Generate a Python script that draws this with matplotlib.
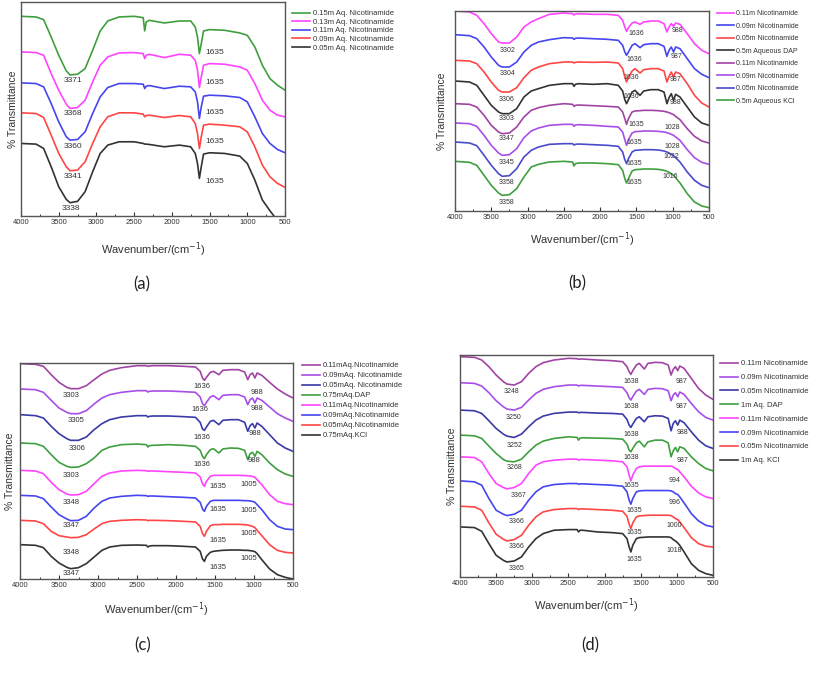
import matplotlib
matplotlib.use('Agg')
import matplotlib.pyplot as plt
import numpy as np
from matplotlib.ticker import MultipleLocator

plt.rcParams['font.family'] = ['Liberation Sans', 'DejaVu Sans']

# trace readings = pixel row of the trace in a 3x zoom of each panel
# (bigger number = lower on the page), turned into heights below

# ---- (a) ----
wn_a = [4000, 3800, 3700, 3600, 3500, 3400, 3350, 3250, 3150, 3050, 2950, 2850, 2700, 2500, 2380,
        2360, 2340, 2300, 2100, 1900, 1750, 1690, 1660, 1635, 1610, 1580, 1500, 1300, 1100, 1000,
        900, 800, 700, 600, 500]
a_015 = [48, 50, 58, 110, 165, 212, 224, 222, 205, 150, 92, 62, 50, 48, 52, 92, 65, 60, 68, 62,
         62, 80, 110, 160, 130, 92, 88, 90, 98, 105, 140, 195, 235, 255, 270]
a_013 = [155, 157, 165, 220, 270, 312, 325, 322, 300, 245, 195, 170, 158, 157, 160, 175, 165, 162, 172, 162,
         165, 180, 210, 262, 230, 195, 190, 192, 200, 210, 250, 300, 330, 345, 350]
a_011 = [248, 250, 260, 310, 365, 410, 420, 418, 395, 340, 290, 262, 250, 250, 252, 265, 258, 256, 265, 258,
         260, 275, 305, 355, 320, 288, 285, 287, 292, 305, 350, 400, 430, 448, 458]
a_009 = [338, 340, 352, 405, 460, 500, 512, 510, 485, 430, 380, 350, 338, 338, 342, 350, 346, 345, 352, 346,
         350, 370, 400, 445, 410, 375, 372, 375, 380, 395, 440, 495, 530, 550, 562]
a_005 = [430, 432, 445, 500, 560, 598, 608, 604, 575, 515, 460, 435, 425, 425, 430, 432, 432, 433, 440, 435,
         440, 460, 490, 535, 500, 462, 458, 460, 468, 490, 540, 600, 632, 662, 700]
a_names = ['0.15m Aq. Nicotinamide', '0.13m Aq. Nicotinamide', '0.11m Aq. Nicotinamide',
           '0.09m Aq. Nicotinamide', '0.05m Aq. Nicotinamide']
a_lbl = ['3371', '3368', '3360', '3341', '3338', '1635', '1635', '1635', '1635', '1635']
a_lbl_wn = [3312, 3312, 3312, 3312, 3334, 1427, 1427, 1427, 1427, 1427]
a_lbl_row = [240, 340, 438, 528, 626, 158, 248, 338, 425, 545]

# ---- (b), (c), (d) share one wavenumber grid ----
wn = [4000, 3800, 3700, 3600, 3500, 3400, 3350, 3250, 3150, 3050, 2950, 2850, 2700, 2500, 2380,
      2360, 2340, 2300, 2100, 1900, 1750, 1690, 1660, 1636, 1610, 1560, 1520, 1450, 1400, 1300,
      1200, 1120, 1080, 1050, 1020, 988, 960, 900, 800, 700, 600, 500]

b_011 = [32, 35, 45, 70, 100, 125, 128, 128, 110, 80, 65, 55, 42, 38, 40, 44, 41, 40, 42, 42, 45, 60, 80, 93,
         82, 68, 65, 72, 65, 62, 62, 70, 95, 80, 70, 78, 68, 72, 100, 130, 150, 160]
b_009 = [103, 106, 115, 140, 170, 195, 200, 200, 185, 155, 135, 125, 118, 112, 113, 117, 114, 113, 115, 117,
         120, 135, 155, 165, 155, 135, 130, 142, 133, 130, 130, 138, 168, 150, 140, 155, 140, 145, 175, 205,
         222, 232]
b_005 = [180, 182, 190, 215, 245, 270, 275, 275, 262, 232, 210, 200, 190, 185, 185, 188, 186, 185, 186, 185,
         188, 205, 230, 245, 232, 212, 205, 218, 208, 205, 205, 212, 245, 228, 215, 230, 215, 220, 250, 285,
         308, 320]
b_dap = [242, 245, 255, 285, 315, 335, 340, 340, 325, 290, 272, 265, 255, 250, 250, 258, 252, 250, 252, 250,
         255, 272, 298, 310, 298, 275, 270, 285, 272, 268, 268, 275, 310, 292, 280, 300, 282, 290, 320, 350,
         368, 375]
b_k011 = [310, 312, 320, 345, 375, 395, 400, 398, 380, 350, 330, 322, 315, 310, 312, 318, 315, 314, 316, 318,
          320, 335, 355, 372, 355, 335, 332, 331, 330, 330, 331, 333, 335, 337, 340, 343, 348, 358, 385, 408,
          422, 428]
b_k009 = [368, 370, 378, 405, 435, 458, 465, 463, 445, 412, 392, 383, 375, 372, 372, 378, 374, 373, 375, 378,
          380, 395, 418, 435, 418, 398, 394, 393, 392, 392, 393, 395, 397, 399, 402, 405, 410, 420, 448, 472,
          486, 492]
b_k005 = [425, 428, 436, 465, 495, 520, 528, 526, 505, 470, 450, 440, 432, 430, 430, 434, 432, 431, 433, 435,
          438, 455, 478, 490, 475, 455, 450, 449, 448, 448, 449, 452, 455, 458, 462, 466, 472, 485, 515, 540,
          555, 562]
b_kcl = [483, 486, 495, 525, 555, 578, 585, 583, 565, 530, 500, 492, 485, 483, 485, 497, 490, 488, 488, 490,
         493, 510, 535, 548, 535, 512, 508, 507, 506, 506, 507, 510, 513, 516, 520, 525, 532, 548, 580, 605,
         617, 622]
b_names = ['0.11m Nicotinamide', '0.09m Nicotinamide', '0.05m Nicotinamide', '0.5m Aqueous DAP',
           '0.11m Nicotinamide', '0.09m Nicotinamide', '0.05m Nicotinamide', '0.5m Aqueous KCl']
b_lbl = ['3302', '3304', '3306', '3303', '3347', '3345', '3358', '3358',
         '1636', '1636', '1636', '1636', '1635', '1635', '1635', '1635',
         '988', '987', '987', '988', '1028', '1028', '1022', '1016']
b_lbl_wn = [3280, 3280, 3285, 3290, 3290, 3290, 3290, 3290,
            1497, 1529, 1565, 1565, 1506, 1529, 1529, 1529,
            932, 945, 955, 968, 1000, 1000, 1014, 1037]
b_lbl_row = [150, 220, 298, 355, 415, 488, 545, 605,
             100, 178, 232, 288, 372, 428, 490, 548,
             92, 168, 238, 308, 382, 440, 470, 530]

c_011 = [102, 104, 110, 135, 158, 173, 177, 177, 168, 150, 133, 122, 114, 108, 108, 110, 109, 108, 108, 110,
         112, 125, 145, 152, 143, 128, 125, 135, 122, 120, 120, 127, 150, 135, 130, 145, 130, 137, 158, 178,
         193, 205]
c_009 = [178, 180, 188, 212, 235, 248, 252, 252, 243, 223, 205, 195, 188, 183, 183, 187, 185, 184, 184, 186,
         188, 202, 222, 228, 218, 202, 198, 210, 197, 195, 195, 202, 225, 210, 205, 220, 205, 212, 232, 252,
         265, 275]
c_005 = [255, 258, 265, 290, 312, 327, 332, 332, 322, 300, 282, 270, 262, 258, 258, 262, 260, 259, 259, 261,
         263, 278, 298, 302, 292, 275, 272, 285, 272, 270, 270, 278, 305, 288, 282, 295, 280, 290, 315, 340,
         355, 365]
c_dap = [340, 342, 350, 375, 398, 410, 413, 412, 402, 385, 362, 352, 345, 343, 345, 352, 348, 347, 345, 347,
         350, 362, 380, 387, 375, 360, 357, 370, 358, 355, 356, 362, 390, 372, 368, 380, 365, 375, 400, 420,
         433, 440]
c_k011 = [422, 424, 432, 458, 480, 493, 496, 495, 485, 462, 440, 430, 424, 422, 423, 425, 424, 424, 426, 428,
          430, 442, 462, 470, 455, 440, 437, 437, 437, 437, 437, 438, 438, 439, 440, 443, 450, 465, 495, 515,
          522, 525]
c_k009 = [497, 499, 507, 532, 555, 568, 573, 572, 560, 535, 515, 505, 500, 497, 498, 500, 499, 499, 501, 503,
          505, 518, 538, 545, 530, 515, 512, 512, 512, 512, 512, 513, 513, 514, 515, 518, 525, 540, 570, 590,
          598, 600]
c_k005 = [572, 574, 582, 605, 618, 622, 624, 623, 615, 598, 582, 575, 572, 570, 571, 573, 572, 572, 573, 575,
          577, 590, 612, 620, 605, 588, 585, 585, 584, 584, 584, 585, 586, 588, 590, 594, 602, 618, 645, 662,
          668, 670]
c_kcl = [645, 647, 654, 680, 700, 713, 717, 714, 702, 682, 662, 652, 647, 646, 647, 652, 649, 648, 648, 650,
         652, 665, 688, 695, 680, 668, 665, 663, 662, 661, 661, 662, 662, 663, 664, 666, 672, 690, 718, 735,
         743, 748]
c_names = ['0.11mAq.Nicotinamide', '0.09mAq. Nicotinamide', '0.05mAq. Nicotinamide', '0.75mAq.DAP',
           '0.11mAq.Nicotinamide', '0.09mAq.Nicotinamide', '0.05mAq.Nicotinamide', '0.75mAq.KCl']
c_lbl = ['3303', '3305', '3306', '3303', '3348', '3347', '3348', '3347',
         '1636', '1636', '1636', '1636', '1635', '1635', '1635', '1635',
         '988', '988', '988', '988', '1005', '1005', '1005', '1005']
c_lbl_wn = [3345, 3281, 3273, 3345, 3345, 3345, 3345, 3345,
            1668, 1698, 1668, 1668, 1463, 1463, 1463, 1463,
            962, 962, 983, 1005, 1069, 1069, 1069, 1069]
c_lbl_row = [198, 273, 358, 437, 518, 588, 668, 732,
             170, 240, 323, 405, 470, 540, 632, 713,
             190, 235, 312, 392, 465, 543, 612, 688]

d_011 = [80, 82, 90, 110, 135, 155, 162, 165, 155, 130, 110, 98, 90, 85, 86, 88, 87, 87, 90, 92, 95, 110, 125,
         133, 122, 105, 100, 117, 100, 97, 98, 105, 135, 118, 110, 122, 108, 115, 145, 175, 195, 208]
d_009 = [158, 160, 168, 188, 212, 230, 237, 240, 232, 210, 190, 178, 170, 165, 165, 168, 166, 166, 168, 170,
         172, 188, 203, 210, 200, 183, 178, 193, 178, 175, 176, 182, 212, 195, 188, 200, 186, 193, 220, 245,
         262, 270]
d_005 = [240, 242, 250, 272, 295, 312, 318, 322, 312, 290, 270, 258, 250, 246, 246, 248, 247, 247, 249, 250,
         252, 268, 285, 292, 282, 265, 260, 275, 260, 257, 258, 265, 302, 280, 272, 285, 270, 278, 305, 330,
         347, 355]
d_dap = [315, 317, 325, 348, 370, 388, 393, 395, 387, 365, 345, 333, 325, 320, 322, 330, 324, 323, 324, 325,
         327, 342, 360, 365, 355, 338, 333, 350, 335, 330, 330, 338, 380, 362, 352, 365, 350, 355, 380, 400,
         415, 422]
d_k011 = [380, 382, 395, 430, 460, 472, 476, 472, 460, 430, 405, 395, 390, 387, 387, 390, 388, 388, 390, 392,
          395, 410, 435, 452, 435, 415, 410, 408, 408, 408, 408, 408, 408, 410, 415, 418, 425, 440, 468, 488,
          500, 505]
d_k009 = [452, 455, 465, 505, 540, 552, 556, 552, 540, 510, 485, 470, 463, 460, 460, 462, 461, 461, 463, 465,
          468, 485, 510, 522, 505, 485, 482, 481, 481, 481, 481, 481, 482, 485, 490, 493, 500, 518, 550, 572,
          585, 590]
d_k005 = [528, 530, 540, 578, 612, 627, 632, 628, 615, 585, 560, 545, 538, 535, 535, 538, 536, 536, 538, 540,
          543, 558, 582, 595, 578, 560, 557, 556, 555, 555, 555, 555, 556, 560, 565, 568, 575, 592, 622, 640,
          648, 650]
d_kcl = [590, 592, 603, 640, 675, 690, 695, 692, 680, 650, 625, 610, 600, 598, 598, 605, 600, 600, 605, 607,
         610, 625, 650, 665, 645, 625, 622, 621, 620, 620, 620, 620, 622, 628, 632, 638, 645, 665, 700, 720,
         730, 735]
d_names = ['0.11m Nicotinamide', '0.09m Nicotinamide', '0.05m Nicotinamide', '1m Aq. DAP',
           '0.11m Nicotinamide', '0.09m Nicotinamide', '0.05m Nicotinamide', '1m Aq. KCl']
d_lbl = ['3248', '3250', '3252', '3268', '3367', '3366', '3366', '3365',
         '1638', '1638', '1638', '1638', '1635', '1635', '1635', '1635',
         '987', '987', '988', '987', '994', '996', '1000', '1018']
d_lbl_wn = [3286, 3263, 3249, 3249, 3194, 3217, 3217, 3217,
            1628, 1628, 1628, 1628, 1628, 1591, 1591, 1591,
            937, 937, 928, 928, 1029, 1029, 1038, 1038]
d_lbl_row = [185, 262, 345, 412, 495, 575, 648, 715,
             155, 228, 312, 383, 465, 540, 606, 687,
             155, 228, 308, 390, 450, 518, 585, 660]

GREEN, MAGENTA, BLUE, RED, BLACK = '#3f9f3f', '#ff44ff', '#4646f0', '#ff4646', '#333333'
PURPLE, VIOLET, DBLUE, BLUE2 = '#a044a4', '#a84ee8', '#3a3aa8', '#4a4acc'

fig = plt.figure(figsize=(8.13, 6.76), dpi=100)
W, H = 813, 676


def panel(box, x, traces, names, colors, top, floor, lbl, lbl_wn, lbl_row, lbl_fs,
          leg_xy, leg_fs, leg_sp, ypad, xlab_ofs):
    l, t, r, b = box
    ax = fig.add_axes([l / W, 1 - b / H, (r - l) / W, (b - t) / H])
    for tr, nm, c in zip(traces, names, colors):
        ax.plot(x, floor - np.array(tr), color=c, lw=1.2, label=nm)
    for s, xx, yy in zip(lbl, lbl_wn, lbl_row):
        ax.text(xx, floor - yy, s, fontsize=lbl_fs, color='#333333', ha='center', va='center')
    ax.set_xlim(4000, 500)
    ax.set_ylim(0, floor - top)
    ax.set_yticks([])
    ax.xaxis.set_major_locator(MultipleLocator(500))
    ax.xaxis.set_minor_locator(MultipleLocator(250))
    ax.tick_params(axis='x', which='major', direction='in', length=3, width=0.8,
                   labelsize=5.5, pad=2.5, colors='#333333')
    ax.tick_params(axis='x', which='minor', direction='in', length=1.8, width=0.7, colors='#333333')
    for sp in ax.spines.values():
        sp.set_color('#555555')
        sp.set_linewidth(1.0)
    ax.set_ylabel('% Transmittance', fontsize=7.5, color='#333333', labelpad=ypad)
    ax.set_xlabel('Wavenumber/(cm$^{-1}$)', fontsize=8, color='#333333')
    ax.xaxis.set_label_coords(0.5, -xlab_ofs / (b - t))
    ax.legend(loc='upper left', bbox_to_anchor=(leg_xy[0] / W, 1 - leg_xy[1] / H),
              bbox_transform=fig.transFigure, frameon=False, fontsize=leg_fs,
              labelspacing=leg_sp, handlelength=2.4, handletextpad=0.3,
              borderpad=0, borderaxespad=0, labelcolor='#333333')
    return ax


panel((21, 2, 285, 216), wn_a, [a_015, a_013, a_011, a_009, a_005], a_names,
      [GREEN, MAGENTA, BLUE, RED, BLACK], 5, 648, a_lbl, a_lbl_wn, a_lbl_row, 6,
      (292, 10), 5.5, 0.16, 2.5, 24)

panel((455, 11, 709, 211), wn, [b_011, b_009, b_005, b_dap, b_k011, b_k009, b_k005, b_kcl], b_names,
      [MAGENTA, BLUE, RED, BLACK, PURPLE, VIOLET, BLUE2, GREEN], 32, 632, b_lbl, b_lbl_wn, b_lbl_row, 5,
      (717, 10), 5, 0.8, 5.5, 19)

panel((20, 363, 293, 579), wn, [c_011, c_009, c_005, c_dap, c_k011, c_k009, c_k005, c_kcl], c_names,
      [PURPLE, VIOLET, DBLUE, GREEN, MAGENTA, BLUE, RED, BLACK], 100, 748, c_lbl, c_lbl_wn, c_lbl_row, 5.5,
      (302, 362), 5.5, 0.35, 3.5, 21)

panel((460, 355, 713, 577), wn, [d_011, d_009, d_005, d_dap, d_k011, d_k009, d_k005, d_kcl], d_names,
      [PURPLE, VIOLET, DBLUE, GREEN, MAGENTA, BLUE, RED, BLACK], 75, 740, d_lbl, d_lbl_wn, d_lbl_row, 5,
      (720, 360), 5.5, 0.85, 2.5, 19)

for s, x, y in [('(a)', 142, 284), ('(b)', 577, 283), ('(c)', 143, 645), ('(d)', 590, 645)]:
    fig.text(x / W, 1 - y / H, s, fontsize=12, family=['Lato', 'DejaVu Sans'],
             color='#222222', ha='center', va='center')

fig.savefig('out.png', dpi=100, facecolor='white')
